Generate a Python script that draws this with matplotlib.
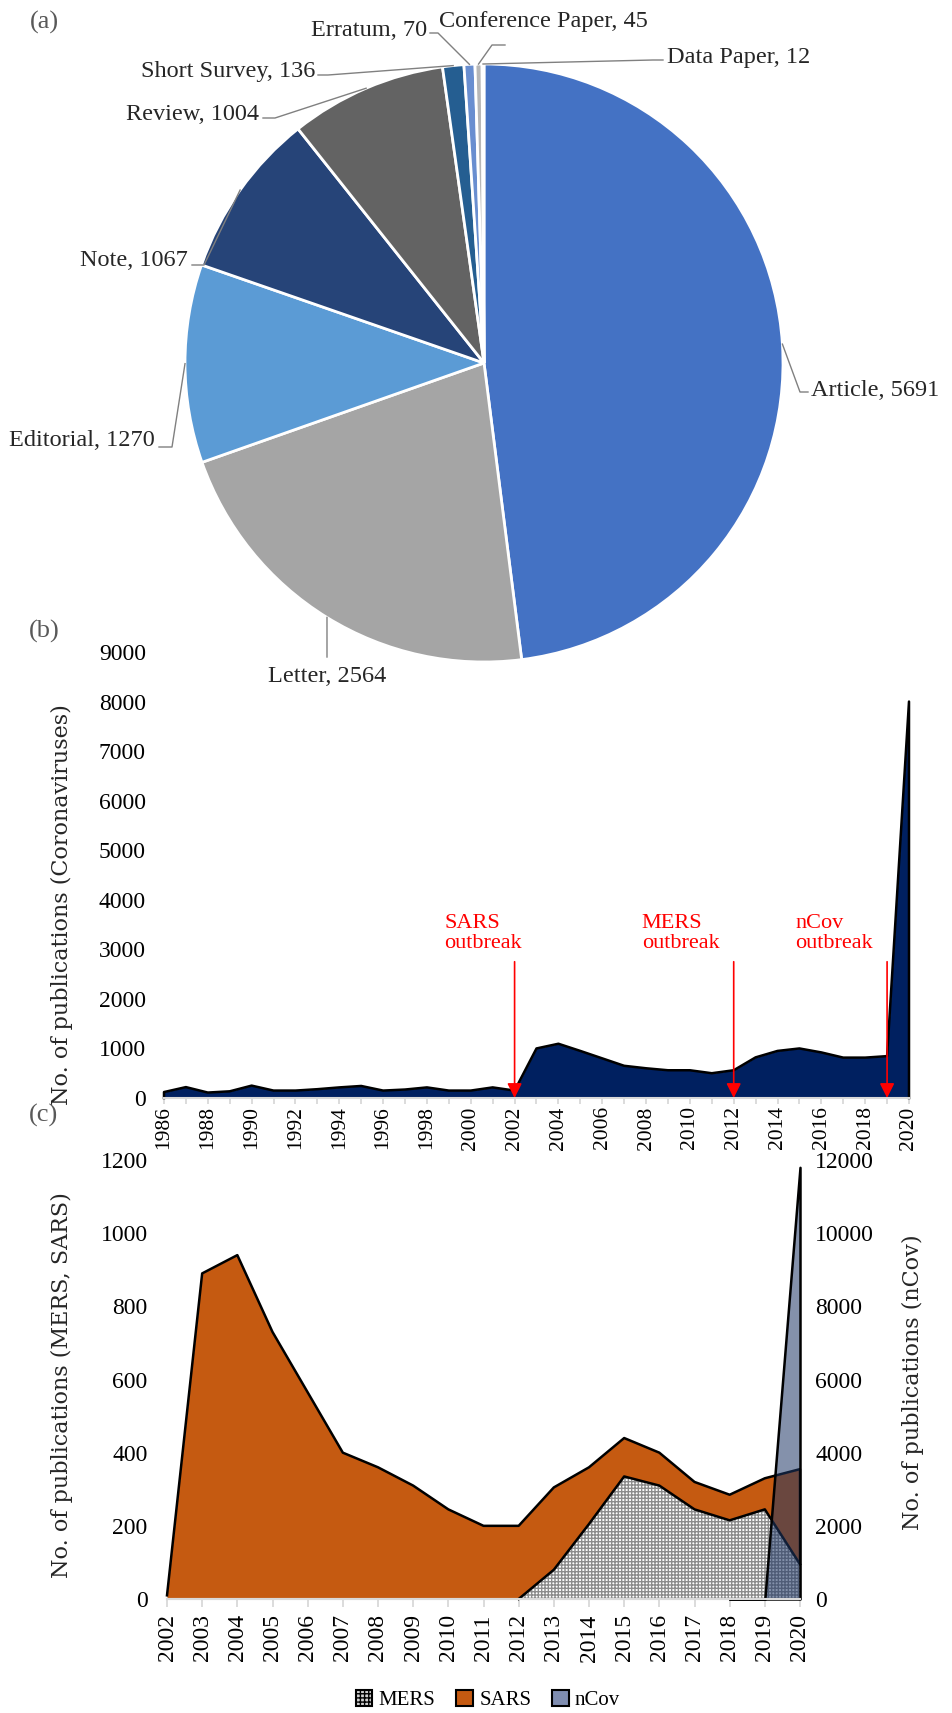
import numpy as np
import matplotlib
matplotlib.use("Agg")
import matplotlib.pyplot as plt
from matplotlib.patches import Patch

plt.rcParams["font.family"] = ["Liberation Serif", "DejaVu Serif"]

# (a) document types
doc_types = ["Article", "Letter", "Editorial", "Note", "Review",
             "Short Survey", "Erratum", "Conference Paper", "Data Paper"]
doc_counts = [5691, 2564, 1270, 1067, 1004, 136, 70, 45, 12]
doc_colors = ["#4472C4", "#A5A5A5", "#5B9BD5", "#264478", "#636363",
              "#255E91", "#698ED0", "#B7B7B7", "#7CAFDD"]

# (b) coronavirus publications per year
years_b = list(range(1986, 2021))
pubs_all = [120, 220, 110, 135, 250, 150, 150, 178, 214, 243, 150, 171, 214,
            150, 150, 214, 150, 1000, 1095, 950, 800, 650, 600, 560, 560, 500,
            560, 820, 950, 1000, 920, 815, 815, 845, 8000]
outbreaks = ["SARS", "MERS", "nCov"]
outbreak_years = [2002, 2012, 2019]

# (c) per virus
years_c = list(range(2002, 2021))
sars = [10, 890, 940, 730, 565, 400, 360, 310, 245, 200, 200, 305, 360, 440,
        400, 320, 285, 330, 355]
years_mers = list(range(2012, 2021))
mers = [0, 80, 205, 335, 310, 245, 215, 245, 95]
years_ncov = [2018, 2019, 2020]
ncov = [0, 0, 11800]

W, H = 952, 1713
fig = plt.figure(figsize=(W / 100, H / 100), dpi=100)

GRID = "#D9D9D9"
TICK_FS = 17
YLAB = dict(rotation=90, ha="center", va="center", fontsize=16,
            color="#262626", family="DejaVu Serif")
PANEL = dict(ha="center", va="center", fontsize=19, color="#595959")


def fx(px):
    return px / W


def fy(py):
    return 1 - py / H


# ---------------- (a) pie ----------------
top_h = 690
ax_a = fig.add_axes([0, fy(top_h), 1, top_h / H])
ax_a.patch.set_visible(False)
cx, cy, r = 484, -363, 299
ax_a.pie(doc_counts, colors=doc_colors, startangle=90, counterclock=False,
         center=(cx, cy), radius=r,
         wedgeprops=dict(edgecolor="white", linewidth=2))
ax_a.set_xlim(0, W)
ax_a.set_ylim(-top_h, 0)
ax_a.set_aspect("auto")
ax_a.axis("off")

# label layout in pixels: bend point, leader end, text anchor, alignment
label_layout = {
    "Article": ((800, 392), (808, 392), (811, 390), "left"),
    "Letter": (None, (327, 657), (327, 676), "center"),
    "Editorial": ((172, 447), (159, 447), (155, 440), "right"),
    "Note": ((204, 265), (192, 265), (188, 260), "right"),
    "Review": ((275, 118), (263, 118), (259, 115), "right"),
    "Short Survey": ((328, 75), (318, 75), (315, 72), "right"),
    "Erratum": ((438, 33), (430, 33), (427, 30), "right"),
    "Conference Paper": ((492, 45), (505, 45), (439, 22), "left"),
    "Data Paper": ((653, 60), (663, 60), (667, 57), "left"),
}

total = sum(doc_counts)
cum = np.cumsum([0] + doc_counts)
for i, name in enumerate(doc_types):
    mid = (cum[i] + cum[i + 1]) / 2 / total * 360
    theta = np.deg2rad(90 - mid)
    edge = (cx + r * np.cos(theta), cy + r * np.sin(theta))
    bend, end, txt, ha = label_layout[name]
    pts = [edge] + ([(bend[0], -bend[1])] if bend else []) + [(end[0], -end[1])]
    xs, ys = zip(*pts)
    ax_a.plot(xs, ys, color="#808080", lw=1, clip_on=False)
    ax_a.text(txt[0], -txt[1], f"{name}, {doc_counts[i]}", ha=ha, va="center",
              fontsize=17.5, color="#262626")

fig.text(fx(44), fy(22), "(a)", **PANEL)

# ---------------- (b) all coronaviruses ----------------
b_left, b_right, b_top, b_bot = 164, 909, 652, 1098
ax_b = fig.add_axes([fx(b_left), fy(b_bot), (b_right - b_left) / W, (b_bot - b_top) / H])
ax_b.patch.set_visible(False)
ax_b.fill_between(years_b, pubs_all, color="#002060", lw=0, zorder=2)
ax_b.plot([years_b[0]] + years_b + [years_b[-1]], [0] + pubs_all + [0],
          color="black", lw=1.8, zorder=3, clip_on=False)
ax_b.set_xlim(1986, 2020)
ax_b.set_ylim(0, 9000)
ax_b.set_yticks(range(0, 9001, 1000))
ax_b.set_xticks(years_b)
ax_b.set_xticklabels([str(y) if y % 2 == 0 else "" for y in years_b], rotation=90)
for s in ["top", "right", "left"]:
    ax_b.spines[s].set_visible(False)
ax_b.spines["bottom"].set_color(GRID)
ax_b.spines["bottom"].set_linewidth(1.5)
ax_b.spines["bottom"].set_zorder(4)
ax_b.tick_params(axis="y", length=0, pad=13, labelsize=TICK_FS)
ax_b.tick_params(axis="x", length=4, width=1.3, color=GRID, pad=2, labelsize=15.5)

text_x = [1998.8, 2007.8, 2014.8]
for name, yr, tx in zip(outbreaks, outbreak_years, text_x):
    ax_b.text(tx, 3320, f"{name}\noutbreak", ha="left", va="center",
              color="red", fontsize=16, linespacing=1.1)
    ax_b.annotate("", xy=(yr, 0), xytext=(yr, 2750),
                  arrowprops=dict(arrowstyle="-|>", color="red", lw=1.2,
                                  mutation_scale=22, shrinkA=0, shrinkB=0),
                  zorder=5)

fig.text(fx(62), fy(905), "No. of publications (Coronaviruses)", **YLAB)
fig.text(fx(44), fy(631), "(b)", **PANEL)

# ---------------- (c) SARS / MERS / nCov ----------------
c_left, c_right, c_top, c_bot = 167, 800, 1160, 1599
ax_c = fig.add_axes([fx(c_left), fy(c_bot), (c_right - c_left) / W, (c_bot - c_top) / H])
ax_c.patch.set_visible(False)
ax_c.fill_between(years_c, sars, color="#C55A11", lw=0, zorder=2)
ax_c.plot(years_c + [years_c[-1]], sars + [0], color="black", lw=1.8, zorder=3,
          clip_on=False)
ax_c.fill_between(years_mers, mers, facecolor="white", edgecolor="#8C8C8C",
                  hatch="+++++", lw=0, zorder=4)
ax_c.plot(years_mers, mers, color="black", lw=1.8, zorder=5, clip_on=False)
ax_c.set_xlim(2002, 2020)
ax_c.set_ylim(0, 1200)
ax_c.set_yticks(range(0, 1201, 200))
ax_c.set_xticks(years_c)
ax_c.set_xticklabels([str(y) for y in years_c], rotation=90)

ax_n = ax_c.twinx()
ax_n.patch.set_visible(False)
ax_n.fill_between(years_ncov, ncov, facecolor=(0.12, 0.22, 0.40, 0.55),
                  edgecolor="black", lw=1.8, clip_on=False)
ax_n.set_ylim(0, 12000)
ax_n.set_yticks(range(0, 12001, 2000))

for a in (ax_c, ax_n):
    for s in ["top", "right", "left"]:
        a.spines[s].set_visible(False)
    a.spines["bottom"].set_color(GRID)
    a.spines["bottom"].set_linewidth(1.5)
ax_c.tick_params(axis="y", length=0, pad=14, labelsize=TICK_FS)
ax_n.tick_params(axis="y", length=0, pad=11, labelsize=TICK_FS)
ax_c.tick_params(axis="x", length=6, width=1.3, color=GRID, pad=5, labelsize=TICK_FS)

fig.text(fx(62), fy(1385), "No. of publications (MERS, SARS)", **YLAB)
fig.text(fx(913), fy(1382), "No. of publications (nCov)", **YLAB)
fig.text(fx(44), fy(1115), "(c)", **PANEL)

handles = [Patch(facecolor="#D0D0D0", edgecolor="black", hatch="++++", lw=1.5),
           Patch(facecolor="#C55A11", edgecolor="black", lw=1.5),
           Patch(facecolor="#7F8DB0", edgecolor="black", lw=1.5)]
fig.legend(handles, ["MERS", "SARS", "nCov"], loc="center",
           bbox_to_anchor=(fx(488), fy(1700)), ncol=3, frameon=False,
           fontsize=15, handlelength=0.8, handleheight=0.8,
           columnspacing=1.0, handletextpad=0.3)

fig.savefig("out.png", dpi=100)
